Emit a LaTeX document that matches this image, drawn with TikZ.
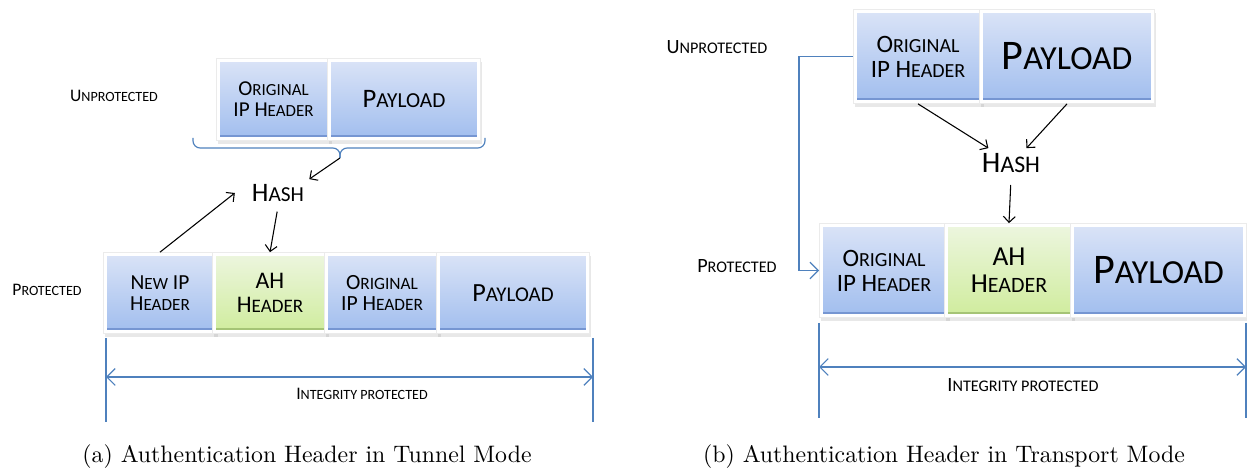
\documentclass[tikz,border=0pt]{standalone}
\usepackage{fontspec}
\usepackage{graphicx}
\usepackage{tikz}
\usetikzlibrary{arrows.meta,shadows}

\newfontfamily\calfont{Carlito}
\newcommand\smc[2]{#1\scalebox{0.8}{#2}}
\newcommand\fsz[1]{\calfont\fontsize{#1}{#1}\selectfont}
\newcommand\fieldfill[3]{%
	\shade[top color=#1, bottom color=#2] ([shift={(1.5pt,1.5pt)}]path picture bounding box.south west) rectangle ([shift={(-1.5pt,-1.5pt)}]path picture bounding box.north east);
	\draw[#3, line width=0.9pt] ([shift={(1.5pt,1.9pt)}]path picture bounding box.south west) -- ([shift={(-1.5pt,1.9pt)}]path picture bounding box.south east);}

\definecolor{fieldtop}{RGB}{219,228,247}
\definecolor{fieldbot}{RGB}{160,189,238}
\definecolor{fieldedge}{RGB}{118,150,210}
\definecolor{ahtop}{RGB}{237,246,224}
\definecolor{ahbot}{RGB}{207,236,156}
\definecolor{ahedge}{RGB}{165,196,118}
\definecolor{lineblue}{RGB}{79,129,189}

\tikzset{
	fieldbox/.style={rectangle, fill=white, draw=black!8, line width=0.3pt, inner sep=0pt, align=center,
		drop shadow={opacity=0.18, shadow xshift=0.6pt, shadow yshift=-1.3pt}},
	field/.style={fieldbox, path picture={\fieldfill{fieldtop}{fieldbot}{fieldedge}}},
	ahfield/.style={fieldbox, path picture={\fieldfill{ahtop}{ahbot}{ahedge}}},
	hashline/.style={-{Straight Barb[length=2.5pt,width=5pt]}, line width=0.45pt},
	blueline/.style={draw=lineblue, line width=0.5pt},
	dimline/.style={blueline, {Straight Barb[length=3.5pt,width=7pt]}-{Straight Barb[length=3.5pt,width=7pt]}},
}

\begin{document}
\begin{tikzpicture}[x=0.42pt, y=-0.42pt]
	\useasboundingbox (0,0) rectangle (1247,469);

	% (a) tunnel mode
	\node[font=\fsz{7.4}] (aU) at (114,96) {\smc{U}{NPROTECTED}};
	\node[font=\fsz{7.4}] (aPr) at (47,290) {\smc{P}{ROTECTED}};

	\node[field, minimum width=47.8pt, minimum height=34.4pt, font=\fsz{8.9}] (aUO) at (273.5,99.5)
	{\smc{O}{RIGINAL}\\IP \smc{H}{EADER}};
	\node[field, minimum width=64.2pt, minimum height=34.4pt, font=\fsz{11.2}] (aUP) at (404,99.5)
	{\smc{P}{AYLOAD}};

	\coordinate (aBL) at (193,138);
	\coordinate (aBR) at (485,138);
	\coordinate (atip) at (340,158);
	\draw[blueline, rounded corners=3pt] (aBL) -- (193,148) -- (340,148) -- (atip);
	\draw[blueline, rounded corners=3pt] (aBR) -- (485,148) -- (340,148) -- (atip);

	\node[inner sep=2pt, font=\fsz{11.2}] (aH) at (278,193) {\smc{H}{ASH}};

	\node[field, minimum width=47.4pt, minimum height=34pt, font=\fsz{9}] (aN) at (160,293)
	{\smc{N}{EW} IP\\\smc{H}{EADER}};
	\node[ahfield, minimum width=48.3pt, minimum height=34pt, font=\fsz{10}] (aAH) at (270,293)
	{AH\\\smc{H}{EADER}};
	\node[field, minimum width=48.3pt, minimum height=34pt, font=\fsz{9.1}] (aO) at (382,293)
	{\smc{O}{RIGINAL}\\IP \smc{H}{EADER}};
	\node[field, minimum width=64.2pt, minimum height=34pt, font=\fsz{11}] (aP) at (513,293)
	{\smc{P}{AYLOAD}};

	\draw[hashline] (atip) -- (aH.north east);
	\draw[hashline] (aN.north) -- ([xshift=-5pt]aH.west);
	\draw[hashline, shorten <=2pt] (aH.south) -- (aAH.north);

	\coordinate (aL1) at (106,338);
	\coordinate (aL2) at (106,422);
	\coordinate (aR1) at (593,338);
	\coordinate (aR2) at (593,422);
	\coordinate (aIL) at (106,377);
	\coordinate (aIR) at (593,377);
	\draw[blueline] (aL1) -- (aL2);
	\draw[blueline] (aR1) -- (aR2);
	\draw[dimline] (aIL) -- (aIR);
	\node[font=\fsz{7.4}] (aI) at (362,394) {\smc{I}{NTEGRITY PROTECTED}};

	\node[anchor=base, font=\fontsize{10}{12}\selectfont] (capa) at (307,462)
	{(a) Authentication Header in Tunnel Mode};

	% (b) transport mode
	\node[font=\fsz{8.5}] (bU) at (717,47) {\smc{U}{NPROTECTED}};
	\node[font=\fsz{8.5}] (bPr) at (737,266) {\smc{P}{ROTECTED}};

	\node[field, minimum width=54.2pt, minimum height=39.5pt, font=\fsz{10.5}] (bUO) at (918,56.5)
	{\smc{O}{RIGINAL}\\IP \smc{H}{EADER}};
	\node[field, minimum width=73.5pt, minimum height=39.5pt, font=\fsz{17.7}] (bUP) at (1067,56.5)
	{\smc{P}{AYLOAD}};

	\node[inner sep=2pt, font=\fsz{12.5}] (bH) at (1011,163) {\smc{H}{ASH}};

	\node[field, minimum width=54.2pt, minimum height=39.5pt, font=\fsz{10.5}] (bO) at (884,270.5)
	{\smc{O}{RIGINAL}\\IP \smc{H}{EADER}};
	\node[ahfield, minimum width=54.2pt, minimum height=39.5pt, font=\fsz{11.5}] (bAH) at (1009,270.5)
	{AH\\\smc{H}{EADER}};
	\node[field, minimum width=73.9pt, minimum height=39.5pt, font=\fsz{17.7}] (bP) at (1158.5,270.5)
	{\smc{P}{AYLOAD}};

	\draw[hashline] (bUO.south) -- ([xshift=-9.5pt]bH.north);
	\draw[hashline] (bUP.south) -- ([xshift=6.5pt]bH.north);
	\draw[hashline, shorten <=3pt] (bH.south) -- (bAH.north);
	\draw[blueline, -{Straight Barb[length=3.5pt,width=7pt]}] (bUO.west) -- ([xshift=-22.7pt]bUO.west) |- (bO.west);

	\coordinate (bL1) at (819,323);
	\coordinate (bL2) at (819,418);
	\coordinate (bR1) at (1246,323);
	\coordinate (bR2) at (1246,418);
	\coordinate (bIL) at (819,367);
	\coordinate (bIR) at (1246,367);
	\draw[blueline] (bL1) -- (bL2);
	\draw[blueline] (bR1) -- (bR2);
	\draw[dimline] (bIL) -- (bIR);
	\node[font=\fsz{8.5}] (bI) at (1023,385) {\smc{I}{NTEGRITY PROTECTED}};

	\node[anchor=base, font=\fontsize{10}{12}\selectfont] (capb) at (944,462)
	{(b) Authentication Header in Transport Mode};
\end{tikzpicture}
\end{document}
